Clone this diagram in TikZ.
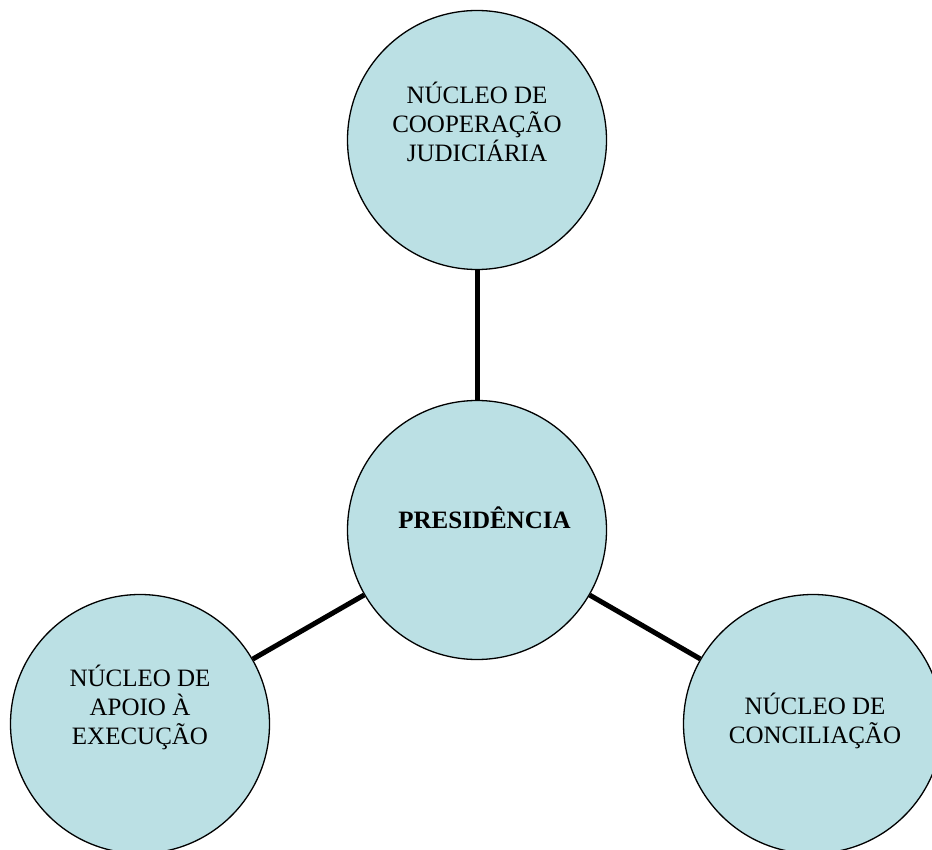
\documentclass[tikz,border=0pt]{standalone}
\usepackage{fontspec}
\setmainfont{Liberation Serif}
\begin{document}
\begin{tikzpicture}[x=1pt,y=-1pt,
  unit/.style={circle,draw=black,line width=1.3pt,fill=cbox,minimum size=259pt,inner sep=0pt},
  lbl/.style={align=center,font=\fontsize{25}{29}\selectfont,inner sep=0pt},
  link/.style={line width=5pt,draw=black}]
\definecolor{cbox}{RGB}{187,224,228}
\useasboundingbox (0,0) rectangle (932,850);
\node[unit] (top) at (477,140) {};
\node[unit] (pres) at (477,530) {};
\node[unit] (left) at (140,724) {};
\node[unit] (right) at (813,724) {};
\draw[link] (top) -- (pres);
\draw[link] (pres) -- (left);
\draw[link] (pres) -- (right);
\node[lbl] (ttop) at (477,122) {NÚCLEO DE\\COOPERAÇÃO\\JUDICIÁRIA};
\node[lbl,font=\fontsize{25}{29}\selectfont\bfseries,anchor=base] (tpres) at (484.5,528) {PRESIDÊNCIA};
\node[lbl] (tleft) at (140,707) {NÚCLEO DE\\APOIO À\\EXECUÇÃO};
\node[lbl] (tright) at (815,721) {NÚCLEO DE\\CONCILIAÇÃO};
\end{tikzpicture}
\end{document}
